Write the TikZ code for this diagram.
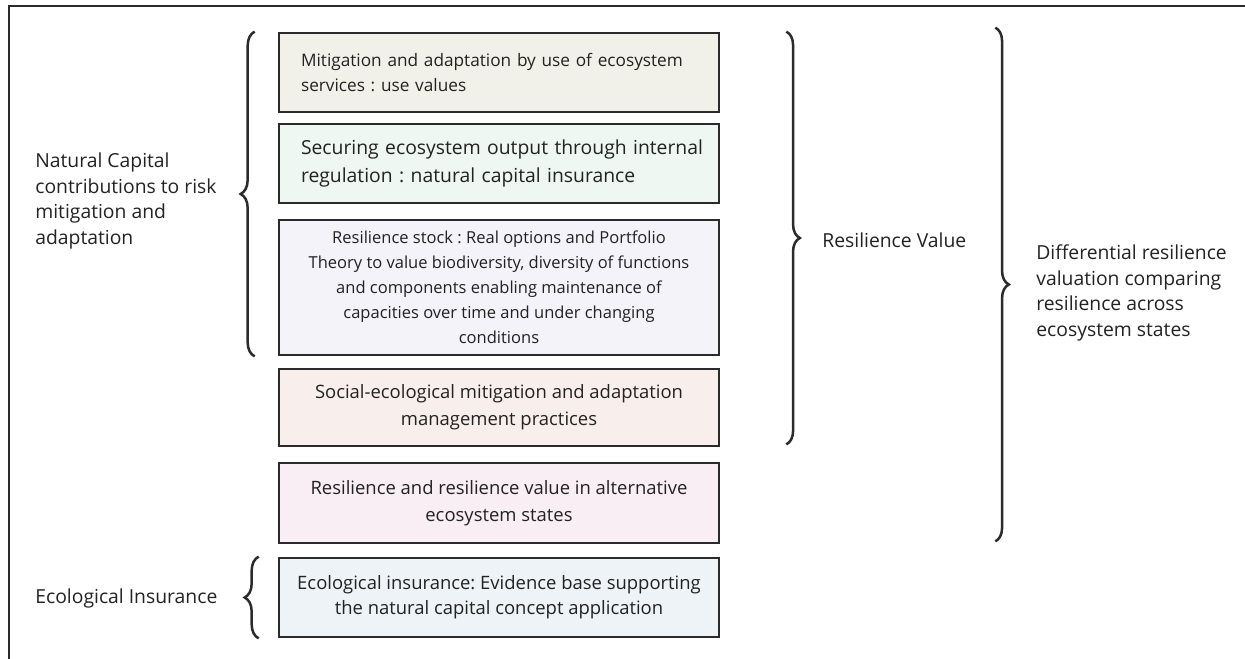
\documentclass[tikz,border=0pt]{standalone}
\usepackage{fontspec}
\setmainfont{Open Sans}
\frenchspacing
\usetikzlibrary{calc,decorations.pathreplacing}

\definecolor{boxline}{HTML}{2B2B2B}
\definecolor{ink}{HTML}{222222}
\definecolor{usefill}{HTML}{F2F1E9}
\definecolor{secfill}{HTML}{EEF7F2}
\definecolor{stockfill}{HTML}{F3F3F9}
\definecolor{socfill}{HTML}{F8EEEC}
\definecolor{altfill}{HTML}{F9EEF3}
\definecolor{ecofill}{HTML}{EEF3F7}

\tikzset{
  box/.style={draw=boxline, line width=0.055cm, minimum width=8.8cm, text=ink,
    font=\fontsize{9.8}{14.2}\selectfont},
  leftbox/.style={box, inner xsep=0.44cm, text width=7.92cm, align=left},
  midbox/.style={box, inner xsep=0.1cm, align=center, font=\fontsize{10.5}{15.3}\selectfont},
  curly/.style={decorate, decoration={brace, amplitude=#1}, line width=0.05cm, draw=boxline},
  sidetext/.style={anchor=west, align=left, inner sep=0pt, text=ink, font=\fontsize{11}{14.6}\selectfont},
}

\begin{document}
\begin{tikzpicture}[x=0.02cm, y=-0.02cm]
  \useasboundingbox (0,0) rectangle (1245,659);

  % outer frame, open at right and bottom
  \draw[line width=0.06cm, boxline] (9,659) -- (9,6) -- (1245,6);

  % stacked boxes
  \node[leftbox, fill=usefill, minimum height=1.58cm] (use) at (499,72.5)
    {\mbox{Mitigation and adaptation by use of ecosystem}\\services : use values};
  \node[leftbox, fill=secfill, minimum height=1.58cm, font=\fontsize{11}{15.9}\selectfont] (sec) at (499,163.5)
    {\mbox{Securing ecosystem output through internal}\\regulation : natural capital insurance};
  \node[midbox, fill=stockfill, minimum height=2.7cm, font=\fontsize{9.4}{14.2}\selectfont] (stock) at (499,287.5)
    {Resilience stock : Real options and Portfolio\\Theory to value biodiversity, diversity of functions\\and components enabling maintenance of\\capacities over time and under changing\\conditions};
  \node[midbox, fill=socfill, minimum height=1.54cm] (soc) at (499,407.5)
    {Social-ecological mitigation and adaptation\\management practices};
  \node[midbox, fill=altfill, minimum height=1.6cm] (alt) at (499,503)
    {Resilience and resilience value in alternative\\ecosystem states};
  \node[midbox, fill=ecofill, minimum height=1.58cm, font=\fontsize{10.5}{14.2}\selectfont] (eco) at (499,597.5)
    {Ecological insurance: Evidence base supporting\\the natural capital concept application};

  % braces
  \draw[curly=0.28cm] ($(stock.south west)+(-23,0)$) -- ($(use.north west)+(-23,0)$);
  \draw[curly=0.28cm] ($(eco.south west)+(-19,0)$) -- ($(eco.north west)+(-19,0)$);
  \draw[curly=0.27cm] ($(use.north east)+(66,0)$) -- ($(soc.south east)+(66,-3)$);
  \draw[curly=0.27cm] ($(use.north east)+(275,-4)$) -- ($(alt.south east)+(275,-3)$);

  % side labels
  \node[sidetext] (nc) at (35,201) {Natural Capital\\contributions to risk\\mitigation and\\adaptation};
  \node[sidetext] (ei) at (35,598) {Ecological Insurance};
  \node[sidetext] (rv) at (822,240) {Resilience Value};
  \node[sidetext] (diff) at (1036,293) {Differential resilience\\valuation comparing\\resilience across\\ecosystem states};
\end{tikzpicture}
\end{document}
